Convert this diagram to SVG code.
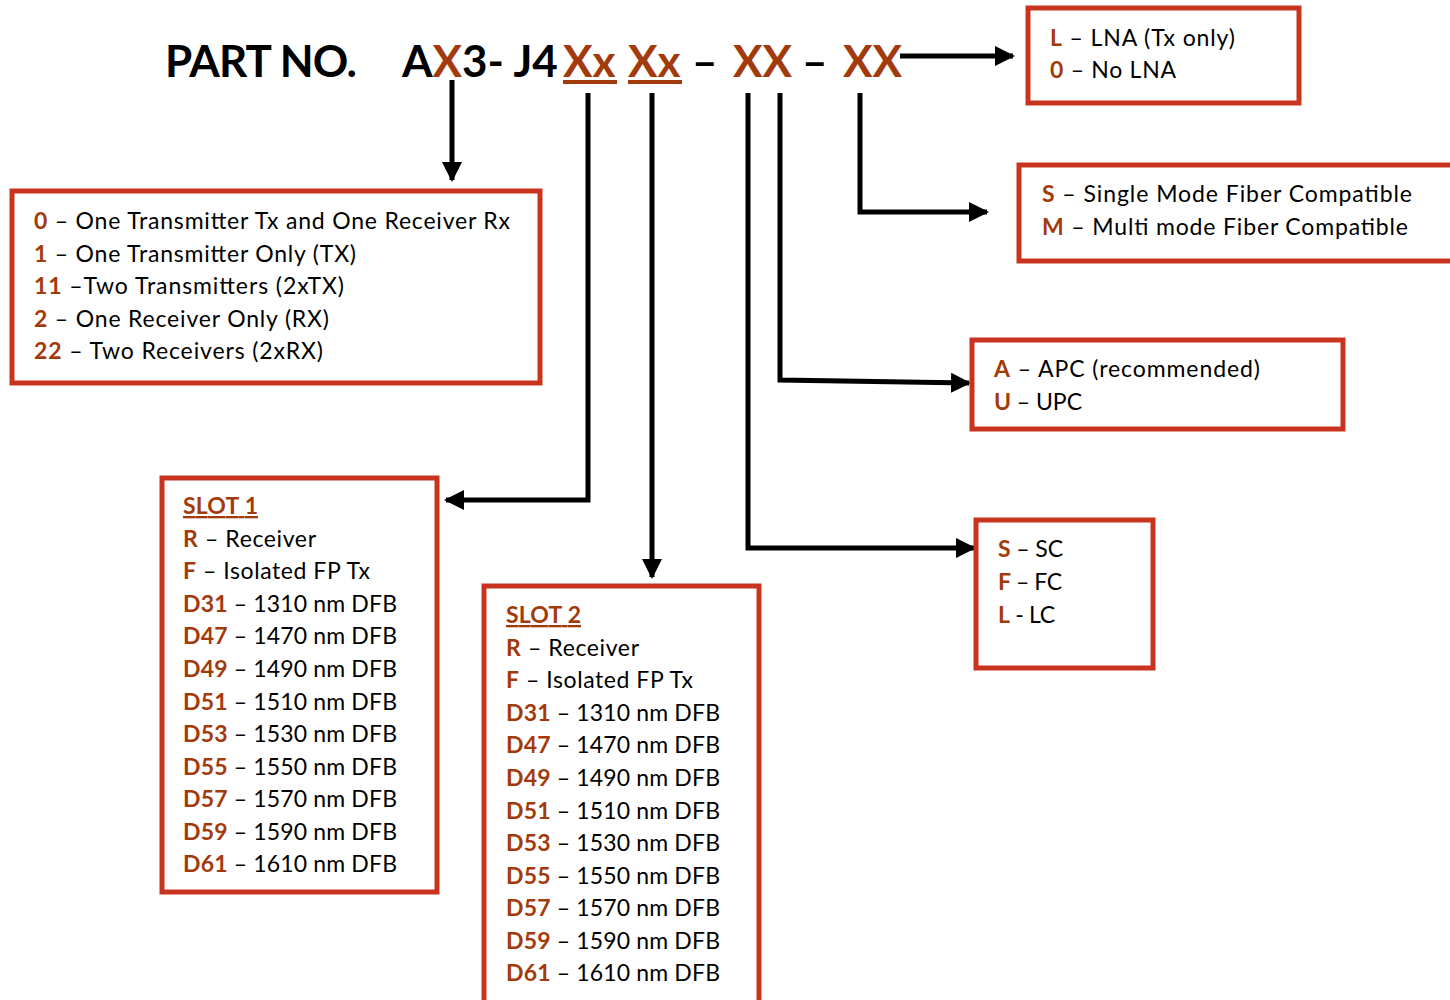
<svg xmlns="http://www.w3.org/2000/svg" width="1450" height="1000" viewBox="0 0 1450 1000">
<defs>
<style>
text{font-family:Lato,"Open Sans","Liberation Sans",sans-serif;font-size:23px;fill:#000}
.t{font-size:44px;font-weight:bold}
.o{fill:#A33A0B;font-weight:bold}
.box{fill:#fff;stroke:#C8341E;stroke-width:5}
.c{fill:none;stroke:#000;stroke-width:5}
.ul{fill:#A33A0B}
</style>
<marker id="ah" viewBox="0 0 10 10" refX="9" refY="5" markerWidth="4" markerHeight="4" orient="auto" markerUnits="strokeWidth">
<path d="M0,0 L10,5 L0,10 z" fill="#000"/>
</marker>
</defs>
<rect width="1450" height="1000" fill="#fff"/>
<g id="title">
<text class="t" x="165" y="77" textLength="192">PART NO.</text>
<text class="t" x="402" y="77">A<tspan fill="#A33A0B">X</tspan>3- J4</text>
<text class="t o" x="563" y="77">Xx</text>
<text class="t o" x="628" y="77">Xx</text>
<text class="t" x="692" y="77">–</text>
<text class="t o" x="733" y="77">XX</text>
<text class="t" x="802" y="77">–</text>
<text class="t o" x="843" y="77">XX</text>
<rect class="ul" x="563" y="80" width="54" height="4"/>
<rect class="ul" x="628" y="80" width="54" height="4"/>
</g>
<g id="connectors">
<path class="c" d="M452,80 V180" marker-end="url(#ah)"/>
<path class="c" d="M588,93 V500 H446" marker-end="url(#ah)"/>
<path class="c" d="M652,93 V577" marker-end="url(#ah)"/>
<path class="c" d="M748,93 V548 H974" marker-end="url(#ah)"/>
<path class="c" d="M780,93 V380 L969,383" marker-end="url(#ah)"/>
<path class="c" d="M860,93 V212 H987" marker-end="url(#ah)"/>
<path class="c" d="M900,56 H1013" marker-end="url(#ah)"/>
</g>
<g id="lna">
<rect class="box" x="1028" y="8" width="271" height="95"/>
<text x="1050" y="46" textLength="185"><tspan class="o">L</tspan> –  LNA (Tx only)</text>
<text x="1050" y="78" textLength="126"><tspan class="o">0</tspan> –  No LNA</text>
</g>
<g id="fiber">
<rect class="box" x="1019" y="165" width="440" height="96"/>
<text x="1042" y="202" textLength="370"><tspan class="o">S</tspan> –  Single Mode Fiber Compatible</text>
<text x="1042" y="235" textLength="366"><tspan class="o">M</tspan> – Multi mode Fiber Compatible</text>
</g>
<g id="polish">
<rect class="box" x="972" y="340" width="371" height="89"/>
<text x="994" y="377" textLength="266"><tspan class="o">A</tspan> – APC (recommended)</text>
<text x="994" y="410" textLength="88"><tspan class="o">U</tspan> – UPC</text>
</g>
<g id="connector-type">
<rect class="box" x="976" y="520" width="177" height="148"/>
<text x="998" y="557" textLength="65"><tspan class="o">S</tspan> – SC</text>
<text x="998" y="590" textLength="64"><tspan class="o">F</tspan> – FC</text>
<text x="998" y="623" textLength="57"><tspan class="o">L</tspan> - LC</text>
</g>
<g id="config">
<rect class="box" x="12" y="191" width="528" height="192"/>
<text x="34" y="229" textLength="476"><tspan class="o">0</tspan> – One Transmitter Tx and One Receiver Rx</text>
<text x="34" y="262" textLength="322"><tspan class="o">1</tspan> – One Transmitter Only (TX)</text>
<text x="34" y="294" textLength="310"><tspan class="o">11</tspan> –Two Transmitters (2xTX)</text>
<text x="34" y="327" textLength="295"><tspan class="o">2</tspan> –  One Receiver Only (RX)</text>
<text x="34" y="359" textLength="289"><tspan class="o">22</tspan> –  Two Receivers (2xRX)</text>
</g>
<g id="slot1">
<rect class="box" x="162" y="478" width="275" height="414"/>
<text x="183" y="514" class="o" text-decoration="underline" textLength="75">SLOT 1</text>
<text x="183" y="547" textLength="133"><tspan class="o">R</tspan> – Receiver</text>
<text x="183" y="579" textLength="187"><tspan class="o">F</tspan> – Isolated FP Tx</text>
<text x="183" y="612" textLength="214"><tspan class="o">D31</tspan> – 1310 nm DFB</text>
<text x="183" y="644" textLength="214"><tspan class="o">D47</tspan> – 1470 nm DFB</text>
<text x="183" y="677" textLength="214"><tspan class="o">D49</tspan> – 1490 nm DFB</text>
<text x="183" y="710" textLength="214"><tspan class="o">D51</tspan> – 1510 nm DFB</text>
<text x="183" y="742" textLength="214"><tspan class="o">D53</tspan> – 1530 nm DFB</text>
<text x="183" y="775" textLength="214"><tspan class="o">D55</tspan> – 1550 nm DFB</text>
<text x="183" y="807" textLength="214"><tspan class="o">D57</tspan> – 1570 nm DFB</text>
<text x="183" y="840" textLength="214"><tspan class="o">D59</tspan> – 1590 nm DFB</text>
<text x="183" y="872" textLength="214"><tspan class="o">D61</tspan> – 1610 nm DFB</text>
</g>
<g id="slot2">
<rect class="box" x="484" y="586" width="275" height="420"/>
<text x="506" y="623" class="o" text-decoration="underline" textLength="75">SLOT 2</text>
<text x="506" y="656" textLength="133"><tspan class="o">R</tspan> – Receiver</text>
<text x="506" y="688" textLength="187"><tspan class="o">F</tspan> – Isolated FP Tx</text>
<text x="506" y="721" textLength="214"><tspan class="o">D31</tspan> – 1310 nm DFB</text>
<text x="506" y="753" textLength="214"><tspan class="o">D47</tspan> – 1470 nm DFB</text>
<text x="506" y="786" textLength="214"><tspan class="o">D49</tspan> – 1490 nm DFB</text>
<text x="506" y="819" textLength="214"><tspan class="o">D51</tspan> – 1510 nm DFB</text>
<text x="506" y="851" textLength="214"><tspan class="o">D53</tspan> – 1530 nm DFB</text>
<text x="506" y="884" textLength="214"><tspan class="o">D55</tspan> – 1550 nm DFB</text>
<text x="506" y="916" textLength="214"><tspan class="o">D57</tspan> – 1570 nm DFB</text>
<text x="506" y="949" textLength="214"><tspan class="o">D59</tspan> – 1590 nm DFB</text>
<text x="506" y="981" textLength="214"><tspan class="o">D61</tspan> – 1610 nm DFB</text>
</g>
</svg>
